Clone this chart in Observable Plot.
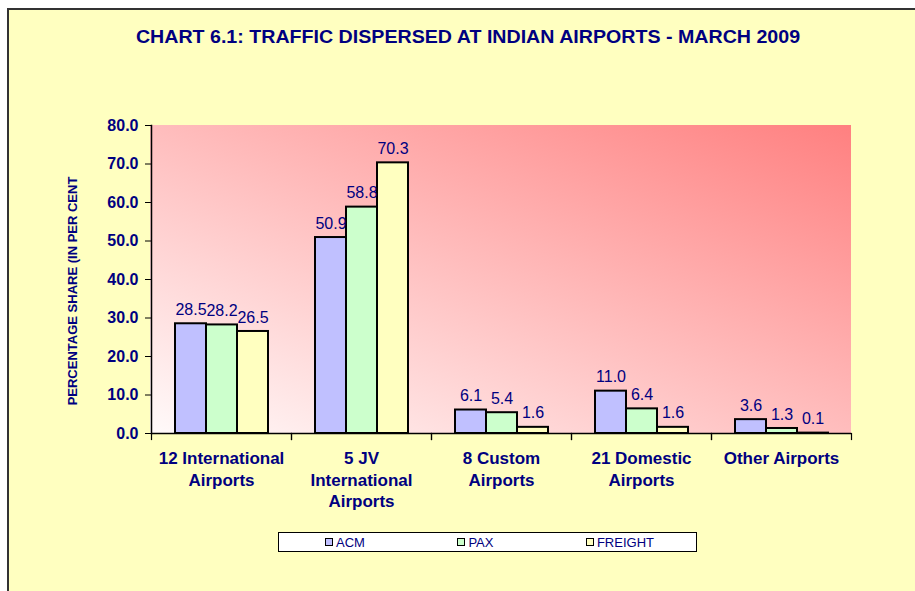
<!DOCTYPE html>
<html><head><meta charset="utf-8">
<script src="https://cdn.jsdelivr.net/npm/d3@7"></script>
<script src="https://cdn.jsdelivr.net/npm/@observablehq/plot@0.6"></script>
<style>
body{margin:0;background:#fff;font-family:"Liberation Sans",Arial,sans-serif;}
#wrap{position:relative;width:915px;height:591px;overflow:hidden;}
#panel{position:absolute;left:7px;top:8px;width:1000px;height:700px;background:#ffffc0;border-left:2px solid #333;border-top:2px solid #333;}
#chart{position:absolute;left:0;top:0;}
#title{position:absolute;left:468px;top:28px;transform:translateX(-50%) scaleX(1.09);white-space:nowrap;font-size:18px;line-height:18px;font-weight:bold;color:#000080;}
#ylab{position:absolute;left:72px;top:291px;transform:translate(-50%,-50%) rotate(-90deg);white-space:nowrap;font-size:13px;font-weight:bold;color:#000080;}
#legend{position:absolute;left:278px;top:532px;width:417px;height:18px;background:#fff;border:1px solid #000;display:flex;justify-content:space-between;align-items:center;padding:0 42px 0 46px;box-sizing:content-box;font-size:13px;color:#000080;}
#legend{width:329px;}
#legend .item{display:flex;align-items:center;}
#legend .sw{width:6px;height:6px;border:1.5px solid #000;margin-right:3px;}
</style>
</head><body>
<div id="wrap">
  <div id="panel"></div>
  <div id="chart"></div>
  <div id="title">CHART 6.1: TRAFFIC DISPERSED AT INDIAN AIRPORTS - MARCH 2009</div>
  <div id="ylab">PERCENTAGE SHARE (IN PER CENT</div>
  <div id="legend"></div>
</div>
<script>
const categories = ["12 International\nAirports", "5 JV\nInternational\nAirports", "8 Custom\nAirports", "21 Domestic\nAirports", "Other Airports"];
const series = ["ACM", "PAX", "FREIGHT"];
const acm = [28.5, 50.9, 6.1, 11.0, 3.6];
const pax = [28.2, 58.8, 5.4, 6.4, 1.3];
const freight = [26.5, 70.3, 1.6, 1.6, 0.1];
const yTicks = [0, 10, 20, 30, 40, 50, 60, 70, 80];
const colors = ["#c0c0ff", "#ccffcc", "#ffffc0"];

const seriesValues = [acm, pax, freight];
const data = categories.flatMap((c, i) => series.map((s, j) => ({cat: c, series: s, value: seriesValues[j][i]})));

const W = 915, H = 591, mL = 150, mR = 64, mT = 125, mB = 158;
const plotH = H - mT - mB;

const chart = Plot.plot({
  width: W, height: H,
  marginLeft: mL, marginRight: mR, marginTop: mT, marginBottom: mB,
  style: {background: "transparent", fontFamily: "'Liberation Sans', Arial, sans-serif", color: "#000080", overflow: "visible"},
  fx: {domain: categories, padding: 0, label: null},
  x: {domain: series, paddingInner: 0, paddingOuter: 0.73, axis: null},
  y: {domain: [0, 80], label: null},
  color: {domain: series, range: colors},
  marks: [
    Plot.barY(data, {fx: "cat", x: "series", y: "value", fill: "series", stroke: "#000", strokeWidth: 2}),
    Plot.text(data, {fx: "cat", x: "series", y: "value", text: d => d.value.toFixed(1), dy: -14, fontSize: 16, fill: "#000080"}),
    Plot.ruleY([0], {stroke: "#000", strokeWidth: 1.5}),
    Plot.frame({anchor: "left", facetAnchor: "left", stroke: "#000", strokeWidth: 1.5}),
    Plot.frame({anchor: "left", insetTop: plotH, insetBottom: -6, stroke: "#000", strokeWidth: 1.2}),
    Plot.frame({anchor: "right", insetTop: plotH, insetBottom: -6, stroke: "#000", strokeWidth: 1.2}),
    Plot.axisY({ticks: yTicks, tickFormat: d3.format(".1f"), tickSize: 6, tickPadding: 7, fontSize: 16, fontWeight: "bold", stroke: "#000", label: null}),
    Plot.axisFx({anchor: "bottom", tickSize: 0, tickPadding: 15, fontSize: 17, fontWeight: "bold", lineHeight: 1.28, label: null})
  ]
});

// gradient background of the plot area
const ns = "http://www.w3.org/2000/svg";
const defs = document.createElementNS(ns, "defs");
defs.innerHTML = '<linearGradient id="bgGrad" x1="0" y1="1" x2="1" y2="0"><stop offset="0" stop-color="#fffafa"/><stop offset="1" stop-color="#ff8080"/></linearGradient>';
const bg = document.createElementNS(ns, "rect");
bg.setAttribute("x", mL); bg.setAttribute("y", mT);
bg.setAttribute("width", W - mL - mR); bg.setAttribute("height", plotH);
bg.setAttribute("fill", "url(#bgGrad)");
const styleEl = chart.querySelector("style");
const after = styleEl ? styleEl.nextSibling : chart.firstChild;
chart.insertBefore(defs, after);
chart.insertBefore(bg, after);

document.getElementById("chart").appendChild(chart);

const legend = document.getElementById("legend");
series.forEach((s, i) => {
  const item = document.createElement("div");
  item.className = "item";
  const sw = document.createElement("span");
  sw.className = "sw";
  sw.style.background = colors[i];
  const t = document.createElement("span");
  t.textContent = s;
  item.appendChild(sw); item.appendChild(t);
  legend.appendChild(item);
});
</script>
</body></html>
